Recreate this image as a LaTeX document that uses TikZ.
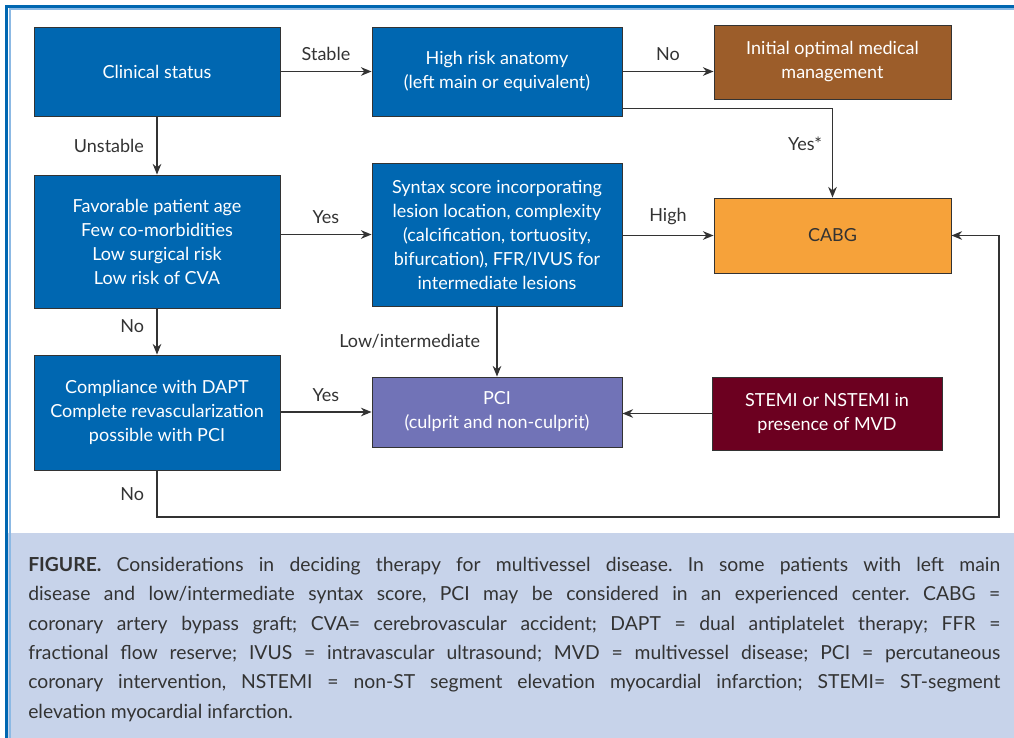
\documentclass[tikz,border=0pt]{standalone}
\usepackage{fontspec}
\setmainfont{Lato}
\usepackage{tikz}
\usetikzlibrary{calc, arrows.meta, positioning}

\definecolor{boxblue}{RGB}{0,103,177}
\definecolor{framelight}{RGB}{140,185,228}
\definecolor{mgmtbrown}{RGB}{156,93,42}
\definecolor{cabgorange}{RGB}{246,162,58}
\definecolor{pcilav}{RGB}{113,115,183}
\definecolor{stemired}{RGB}{108,0,32}
\definecolor{capbg}{RGB}{199,211,234}
\definecolor{txtgray}{RGB}{51,51,51}

\begin{document}
\frenchspacing
\begin{tikzpicture}[
        x=0.75pt, y=-0.75pt,
        box/.style={rectangle, draw=txtgray, line width=0.7pt, fill=boxblue, text=white, inner sep=0pt, font=\fontsize{13.5}{18}\selectfont, align=center},
        lbl/.style={text=txtgray, font=\fontsize{13.5}{16}\selectfont},
        arrow/.style={-{Stealth[length=8pt, width=6.5pt]}, line width=0.9pt, draw=txtgray}
    ]
        \useasboundingbox (0,0) rectangle (1014,738);
        % frame and caption panel
        \fill[capbg] (8,533) rectangle (1014,738);
        \draw[framelight, line width=1.5pt] (9.5,738) -- (9.5,9.5) -- (1014,9.5);
        \draw[boxblue, line width=2.4pt] (6.5,738) -- (6.5,6.5) -- (1014,6.5);

        \node[box, minimum width=184.5pt, minimum height=66.75pt] (clin) at (157,71.5) {Clinical status};
        \node[box, minimum width=187.5pt, minimum height=66.75pt] (risk) at (497,71.5) {High risk anatomy\\(left main or equivalent)};
        \node[box, fill=mgmtbrown, minimum width=177.75pt, minimum height=55.5pt] (omm) at (832.5,62) {Initial optimal medical\\management};
        \node[box, minimum width=184.5pt, minimum height=99.75pt] (fav) at (157,241.5) {Favorable patient age\\Few co-morbidities\\Low surgical risk\\Low risk of CVA};
        \node[box, minimum width=187.5pt, minimum height=107.25pt] (syn) at (497,234.5) {Syntax score incorporating\\lesion location, complexity\\(calcification, tortuosity,\\bifurcation), FFR/IVUS for\\intermediate lesions};
        \node[box, fill=cabgorange, text=txtgray, minimum width=177.75pt, minimum height=56.25pt] (cabg) at (832.5,235.5) {CABG};
        \node[box, minimum width=184.5pt, minimum height=86.25pt] (comp) at (157,412.5) {Compliance with DAPT\\Complete revascularization\\possible with PCI};
        \node[box, fill=pcilav, minimum width=187.5pt, minimum height=52.5pt] (pci) at (497,412) {PCI\\(culprit and non-culprit)};
        \node[box, fill=stemired, minimum width=172.5pt, minimum height=54.75pt] (stemi) at (827,413.5) {STEMI or NSTEMI in\\presence of MVD};
        \coordinate (loop) at (999,517);

        \draw[arrow] (clin) -- node[lbl, above=4pt] {Stable} (risk);
        \draw[arrow] (clin) -- node[lbl, left=6pt] {Unstable} (fav);
        \draw[arrow] (risk.east) -- node[lbl, above=4pt] {No} (risk.east -| omm.west);
        \draw[arrow] ([yshift=6pt]risk.south east) -| node[lbl, pos=0.7, left=4pt] {Yes*} (cabg.north);
        \draw[arrow] (fav.east |- syn.west) -- node[lbl, above=4pt] {Yes} (syn.west);
        \draw[arrow] (syn.east |- cabg.west) -- node[lbl, above=4pt] {High} (cabg.west);
        \draw[arrow] (fav) -- node[lbl, left=6pt, yshift=4pt] {No} (comp);
        \draw[arrow] (syn) -- node[lbl, left=9pt] {Low/intermediate} (pci);
        \draw[arrow] (comp.east |- pci.west) -- node[lbl, above=4pt] {Yes} (pci.west);
        \draw[arrow] (stemi.west) -- (stemi.west -| pci.east);
        \draw[arrow] (comp.south) |- node[lbl, pos=0.25, left=6pt] {No} (loop) |- (cabg.east);

        % caption
        \node[anchor=north west, inner sep=0pt, text width=729pt, align=justify, text=txtgray,
              font=\fontsize{14.5}{22}\selectfont] (caption) at (28,557)
            {\textbf{FIGURE.} Considerations in deciding therapy for multivessel disease. In some patients with left main\linebreak
             disease and low/intermediate syntax score, PCI may be considered in an experienced center. CABG =\linebreak
             coronary artery bypass graft; CVA= cerebrovascular accident; DAPT = dual antiplatelet therapy; FFR =\linebreak
             fractional flow reserve; IVUS = intravascular ultrasound; MVD = multivessel disease; PCI = percutaneous\linebreak
             coronary intervention, NSTEMI = non-ST segment elevation myocardial infarction; STEMI= ST-segment\linebreak
             elevation myocardial infarction.};
    \end{tikzpicture}
\end{document}
